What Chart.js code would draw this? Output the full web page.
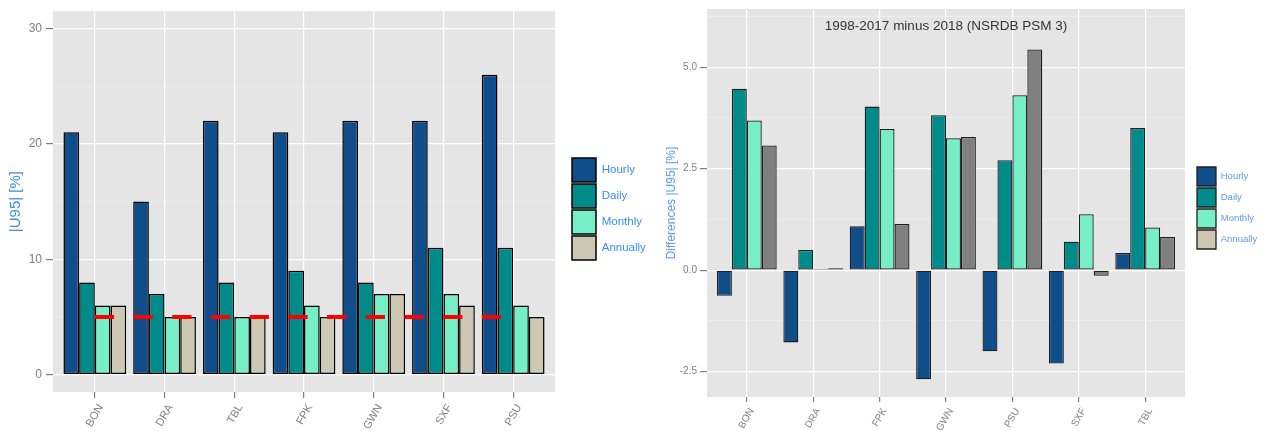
<!DOCTYPE html>
<html><head><meta charset="utf-8">
<script src="https://cdn.jsdelivr.net/npm/chart.js@4.4.1/dist/chart.umd.min.js"></script>
<style>
html,body{margin:0;padding:0;background:#fff;}
#wrap{position:relative;width:1265px;height:431px;overflow:hidden;}
#c1{position:absolute;left:0;top:0;}
#c2{position:absolute;left:655px;top:0;}
</style></head><body>
<div id="wrap"><canvas id="c1" width="655" height="431"></canvas><canvas id="c2" width="610" height="431"></canvas></div>
<script>
// ---------- shared ----------
const seriesNames = ['Hourly', 'Daily', 'Monthly', 'Annually'];
const seriesColors = ['#104E8B', '#008B8B', '#76EEC6', '#CDC8B1'];

// ---------- left panel ----------
const stationsLeft = ['BON', 'DRA', 'TBL', 'FPK', 'GWN', 'SXF', 'PSU'];
const hourlyLeft   = [21, 15, 22, 21, 22, 22, 26];
const dailyLeft    = [8, 7, 8, 9, 8, 11, 11];
const monthlyLeft  = [6, 5, 5, 6, 7, 7, 6];
const annuallyLeft = [6, 5, 5, 5, 7, 6, 5];
const targetLevel  = 5;
const yMajorLeft   = [0, 10, 20, 30];
const yMinorLeft   = [5, 15, 25];
const yTitleLeft   = '|U95| [%]';

// ---------- right panel ----------
const stationsRight = ['BON', 'DRA', 'FPK', 'GWN', 'PSU', 'SXF', 'TBL'];
const hourlyRight   = [-0.63, -1.78, 1.08, -2.69, -2.00, -2.30, 0.42];
const dailyRight    = [4.47, 0.50, 4.03, 3.82, 2.71, 0.70, 3.50];
const monthlyRight  = [3.69, 0.03, 3.48, 3.25, 4.31, 1.38, 1.05];
const annuallyRight = [3.07, 0.05, 1.14, 3.28, 5.44, -0.14, 0.82];
const yMajorRight   = [-2.5, 0, 2.5, 5];
const yMinorRight   = [-1.25, 1.25, 3.75, 6.25];
const yTitleRight   = 'Differences |U95| [%]';
const rightTitle    = '1998-2017 minus 2018 (NSRDB PSM 3)';
const rightTitleLevel = 6;
const rightAnnualBarColor = '#808080';

const FONT = '"Liberation Sans", Arial, Helvetica, sans-serif';
const TICK_GREY = '#7f7f7f';

function pts(values) { return values.map((v, i) => ({x: i + 1, y: v})); }

const panelBg = {
  id: 'panelBg',
  beforeDraw(chart) {
    const {ctx, chartArea: a} = chart;
    ctx.save();
    ctx.fillStyle = '#E5E5E5';
    ctx.fillRect(a.left, a.top, a.right - a.left, a.bottom - a.top);
    ctx.restore();
  }
};

const legendShift = {
  id: 'legendShift',
  afterLayout(chart, args, opts) {
    const lg = chart.legend;
    if (!lg || opts.boxX == null) return;
    const pad = chart.options.plugins.legend.labels.padding;
    const w = lg.width;
    lg.left = opts.boxX - pad;
    lg.right = lg.left + w;
    const colH = (lg.columnSizes && lg.columnSizes[0]) ? lg.columnSizes[0].height : 0;
    lg.top = opts.boxY - pad;
    lg.bottom = opts.boxY + colH;
  }
};

const panelText = {
  id: 'panelText',
  beforeDatasetsDraw(chart, args, opts) {
    if (!opts.text) return;
    const {ctx, chartArea: a} = chart;
    const y = chart.scales.y.getPixelForValue(opts.level);
    ctx.save();
    ctx.font = opts.font;
    ctx.fillStyle = opts.color;
    ctx.textAlign = 'center';
    ctx.textBaseline = 'middle';
    ctx.fillText(opts.text, (a.left + a.right) / 2, y);
    ctx.restore();
  }
};

function makeConfig(cfg) {
  const major = new Set(cfg.yMajor);
  const allTicks = cfg.yMajor.concat(cfg.yMinor).sort((a, b) => a - b);
  const n = cfg.stations.length;
  return {
    type: 'bar',
    data: { datasets: cfg.datasets },
    plugins: [panelBg, legendShift, panelText],
    options: {
      responsive: false,
      animation: false,
      layout: { padding: cfg.layoutPad },
      datasets: { bar: { categoryPercentage: 0.9, barPercentage: 1.0 } },
      scales: {
        x: {
          type: 'linear',
          min: 0.4, max: n + 0.6,
          offset: false,
          afterBuildTicks: s => { s.ticks = cfg.stations.map((_, i) => ({value: i + 1})); },
          afterFit: s => { s.height = cfg.xHeight; },
          grid: { offset: false, color: '#ffffff', lineWidth: 1.2, tickColor: TICK_GREY, tickLength: cfg.xTickLen, tickWidth: 1.2 },
          border: { display: false },
          ticks: {
            autoSkip: false, minRotation: 60, maxRotation: 60,
            padding: cfg.xPad, labelOffset: cfg.xLabelOffset,
            color: TICK_GREY,
            font: { family: FONT, size: cfg.xFont },
            callback: v => cfg.stations[Math.round(v) - 1] || ''
          }
        },
        y: {
          type: 'linear',
          min: cfg.yMin, max: cfg.yMax,
          afterBuildTicks: s => { s.ticks = allTicks.map(v => ({value: v})); },
          afterFit: s => { s.width = cfg.yWidth; },
          grid: {
            color: c => (c.tick && major.has(c.tick.value)) ? '#ffffff' : '#F2F2F2',
            lineWidth: c => (c.tick && major.has(c.tick.value)) ? 1.2 : 0.6,
            tickColor: c => (c.tick && major.has(c.tick.value)) ? TICK_GREY : 'rgba(0,0,0,0)',
            tickLength: cfg.yTickLen, tickWidth: 1.2
          },
          border: { display: false },
          ticks: {
            padding: cfg.yPad,
            color: TICK_GREY,
            font: { family: FONT, size: cfg.yFont },
            callback: v => major.has(v) ? cfg.yLabel(v) : ''
          },
          title: {
            display: true, text: cfg.yTitle, color: cfg.blue,
            font: { family: FONT, size: cfg.yTitleFont },
            padding: { top: cfg.yTitlePad, bottom: 0 }
          }
        },
        pad: {
          type: 'linear', position: 'right', display: true,
          grid: { display: false }, border: { display: false }, ticks: { display: false },
          afterFit: s => {
            const lw = s.chart.legend ? s.chart.legend.width : 0;
            s.width = Math.max(0, s.chart.width - cfg.layoutPad.right - lw - cfg.areaRight);
          }
        }
      },
      plugins: {
        tooltip: { enabled: false },
        legendShift: { boxX: cfg.legendBoxX, boxY: cfg.legendBoxY },
        panelText: cfg.panelText || {},
        legend: {
          position: 'right',
          labels: {
            boxWidth: cfg.box, boxHeight: cfg.box, padding: 2,
            color: cfg.blue,
            font: { family: FONT, size: cfg.legendFont },
            filter: item => item.datasetIndex < seriesNames.length,
            generateLabels: chart => {
              const items = Chart.defaults.plugins.legend.labels.generateLabels(chart);
              items.forEach(it => {
                if (it.datasetIndex < seriesColors.length) it.fillStyle = seriesColors[it.datasetIndex];
              });
              return items;
            }
          }
        }
      }
    }
  };
}

// ---------- left chart ----------
const leftValues = [hourlyLeft, dailyLeft, monthlyLeft, annuallyLeft];
const leftDatasets = leftValues.map((vals, k) => ({
  label: seriesNames[k], data: pts(vals),
  backgroundColor: seriesColors[k], borderColor: '#000000', borderWidth: 1.5, borderSkipped: false
}));
leftDatasets.push({
  type: 'line', label: 'target', order: -1,
  data: [{x: 1, y: targetLevel}, {x: stationsLeft.length, y: targetLevel}],
  borderColor: '#FF0000', borderWidth: 4, borderDash: [19.3, 19.4], pointRadius: 0, fill: false
});

new Chart(document.getElementById('c1'), makeConfig({
  stations: stationsLeft, datasets: leftDatasets,
  yMajor: yMajorLeft, yMinor: yMinorLeft, yMin: -1.5, yMax: 31.5,
  yLabel: v => String(v), yTitle: yTitleLeft, yTitleFont: 15, yTitlePad: 7,
  layoutPad: {top: 9, bottom: 0, left: 0, right: 0},
  xHeight: 39, yWidth: 53, areaRight: 555, legendBoxX: 572, legendBoxY: 158,
  xTickLen: 6, yTickLen: 7, xPad: 4, yPad: 4, xFont: 11, yFont: 12, xLabelOffset: 6,
  blue: '#3a8ee6', box: 24, legendFont: 11.5
}));

// ---------- right chart ----------
const rightValues = [hourlyRight, dailyRight, monthlyRight, annuallyRight];
const rightDatasets = rightValues.map((vals, k) => ({
  label: seriesNames[k], data: pts(vals),
  backgroundColor: k === 3 ? rightAnnualBarColor : seriesColors[k],
  borderColor: '#1e1e1e', borderWidth: 1.3, borderSkipped: false
}));

new Chart(document.getElementById('c2'), makeConfig({
  stations: stationsRight, datasets: rightDatasets,
  yMajor: yMajorRight, yMinor: yMinorRight, yMin: -3.125, yMax: 6.435,
  yLabel: v => v.toFixed(1), yTitle: yTitleRight, yTitleFont: 12, yTitlePad: 9.8,
  layoutPad: {top: 6, bottom: 0, left: 0, right: 0},
  xHeight: 34, yWidth: 52, areaRight: 530, legendBoxX: 542, legendBoxY: 167,
  xTickLen: 5, yTickLen: 7, xPad: 4, yPad: 3, xFont: 10, yFont: 10, xLabelOffset: 5,
  blue: '#5b9be8', box: 19, legendFont: 9.5,
  panelText: { text: rightTitle, level: rightTitleLevel, font: '13.5px ' + FONT, color: '#333333' }
}));
</script>
</body></html>
